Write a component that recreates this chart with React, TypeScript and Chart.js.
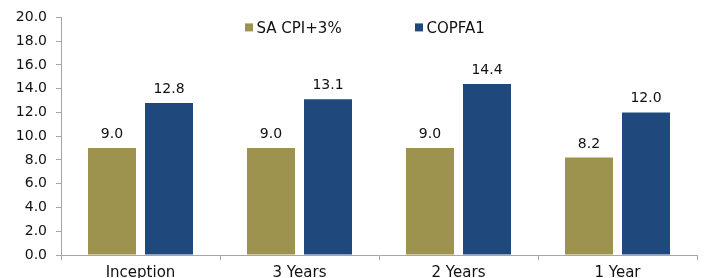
import React, { useEffect, useRef } from "react";
import { Chart, registerables } from "chart.js";

Chart.register(...registerables);

const categories = ["Inception", "3 Years", "2 Years", "1 Year"];
const seriesNames = ["SA CPI+3%", "COPFA1"];
const cpiValues = [9.0, 9.0, 9.0, 8.2];
const copfaValues = [12.8, 13.1, 14.4, 12.0];
const seriesColors = ["#9E924F", "#1F497D"];
const yMin = 0;
const yMax = 20;
const yStep = 2;

const FONT_FAMILY = "'DejaVu Sans', Verdana, sans-serif";
const TEXT_COLOR = "#111111";
const AXIS_COLOR = "#A6A6A6";

const valueLabelPlugin = {
  id: "valueLabels",
  afterDatasetsDraw(chart: any) {
    const ctx = chart.ctx;
    ctx.save();
    ctx.font = `14px ${FONT_FAMILY}`;
    ctx.fillStyle = TEXT_COLOR;
    ctx.textAlign = "center";
    ctx.textBaseline = "alphabetic";
    chart.data.datasets.forEach((ds: any, i: number) => {
      const meta = chart.getDatasetMeta(i);
      meta.data.forEach((bar: any, j: number) => {
        ctx.fillText(Number(ds.data[j]).toFixed(1), bar.x, bar.y - 10);
      });
    });
    ctx.restore();
  },
};

const legendOffsets = [184, 354];

const customLegendPlugin = {
  id: "customLegend",
  afterDraw(chart: any) {
    const { ctx, chartArea } = chart;
    ctx.save();
    ctx.font = `15px ${FONT_FAMILY}`;
    ctx.textAlign = "left";
    ctx.textBaseline = "alphabetic";
    chart.data.datasets.forEach((ds: any, i: number) => {
      const x = chartArea.left + legendOffsets[i];
      const y = chartArea.top + 6;
      ctx.fillStyle = ds.backgroundColor;
      ctx.fillRect(x, y, 8, 8);
      ctx.fillStyle = TEXT_COLOR;
      ctx.fillText(ds.label, x + 11.5, y + 9.5);
    });
    ctx.restore();
  },
};

export default function App() {
  const canvasRef = useRef<HTMLCanvasElement | null>(null);

  useEffect(() => {
    if (!canvasRef.current) return;
    const chart = new Chart(canvasRef.current, {
      type: "bar",
      data: {
        labels: categories,
        datasets: [
          {
            label: seriesNames[0],
            data: cpiValues,
            backgroundColor: seriesColors[0],
            categoryPercentage: 0.717,
            barPercentage: 0.842,
          },
          {
            label: seriesNames[1],
            data: copfaValues,
            backgroundColor: seriesColors[1],
            categoryPercentage: 0.717,
            barPercentage: 0.842,
          },
        ],
      },
      options: {
        animation: false,
        responsive: true,
        maintainAspectRatio: false,
        layout: { padding: { top: 17, right: 12, left: 0, bottom: 0 } },
        plugins: {
          legend: { display: false },
          tooltip: { enabled: false },
        },
        scales: {
          x: {
            grid: {
              drawOnChartArea: false,
              drawTicks: true,
              tickLength: 5,
              color: AXIS_COLOR,
              offset: true,
            },
            border: { color: AXIS_COLOR, width: 1 },
            ticks: {
              font: { family: FONT_FAMILY, size: 15 },
              color: TEXT_COLOR,
              padding: 4,
              maxRotation: 0,
            },
            afterFit: (s: any) => {
              s.height = 23;
            },
          },
          y: {
            min: yMin,
            max: yMax,
            grid: {
              drawOnChartArea: false,
              drawTicks: true,
              tickLength: 5,
              color: AXIS_COLOR,
            },
            border: { color: AXIS_COLOR, width: 1 },
            ticks: {
              stepSize: yStep,
              font: { family: FONT_FAMILY, size: 14 },
              color: TEXT_COLOR,
              padding: 9,
              callback: (v: any) => Number(v).toFixed(1),
            },
            afterFit: (s: any) => {
              s.width = 61;
            },
          },
        },
      },
      plugins: [valueLabelPlugin, customLegendPlugin],
    });
    return () => chart.destroy();
  }, []);

  return (
    <div
      style={{
        position: "fixed",
        left: 0,
        top: 0,
        width: 709,
        height: 278,
        background: "#ffffff",
      }}
    >
      <canvas ref={canvasRef} />
    </div>
  );
}
